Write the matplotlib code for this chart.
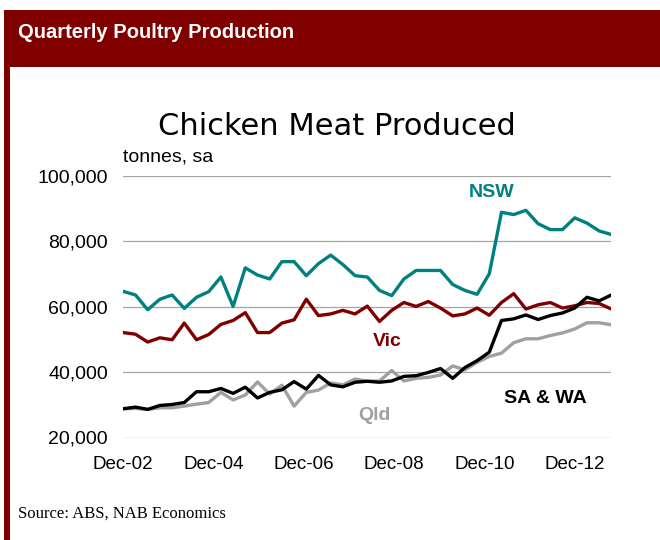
import numpy as np
import matplotlib
matplotlib.use('Agg')
import matplotlib.pyplot as plt
from matplotlib.patches import Rectangle
from matplotlib.ticker import FuncFormatter

# quarterly chicken meat production, tonnes (seasonally adjusted), Dec-02 .. Dec-12
nsw = [64.7, 63.6, 59.1, 62.3, 63.6, 59.5, 62.9, 64.6, 69.1, 60.1, 71.9, 69.7, 68.5, 73.8,
       73.8, 69.5, 73.2, 75.8, 72.9, 69.5, 69.1, 65.0, 63.4, 68.5, 71.1, 71.1, 71.1, 66.8,
       65.0, 63.8, 70.1, 88.9, 88.2, 89.5, 85.4, 83.6, 83.6, 87.2, 85.6, 83.2, 82.1]
vic = [52.1, 51.6, 49.2, 50.5, 49.9, 55.0, 49.9, 51.5, 54.6, 55.8, 58.2, 52.1, 52.1, 55.0,
       56.0, 62.3, 57.3, 57.8, 58.9, 57.8, 60.2, 55.5, 58.9, 61.3, 60.1, 61.6, 59.6, 57.2,
       57.8, 59.6, 57.4, 61.3, 64.0, 59.3, 60.6, 61.3, 59.6, 60.3, 61.3, 61.0, 59.3]
sa_wa = [28.8, 29.3, 28.6, 29.8, 30.1, 30.7, 34.0, 34.0, 35.0, 33.5, 35.4, 32.1, 33.8, 34.6,
         37.1, 34.8, 39.0, 36.1, 35.5, 36.9, 37.2, 36.9, 37.3, 38.7, 38.9, 39.9, 41.1, 38.1,
         41.4, 43.5, 46.1, 55.8, 56.3, 57.5, 56.1, 57.3, 58.1, 59.6, 62.9, 61.8, 63.6]
qld = [28.8, 28.9, 28.6, 29.1, 29.1, 29.6, 30.2, 30.7, 33.8, 31.5, 33.0, 37.0, 33.3, 36.0,
       29.6, 33.8, 34.5, 36.7, 36.1, 37.9, 37.2, 37.3, 40.5, 37.3, 38.1, 38.4, 39.1, 41.9,
       40.7, 43.0, 44.8, 45.8, 49.0, 50.2, 50.2, 51.2, 52.0, 53.2, 55.1, 55.1, 54.5]
tick_labels = ['Dec-02', 'Dec-04', 'Dec-06', 'Dec-08', 'Dec-10', 'Dec-12']

RED = '#800000'
TEAL = '#008080'
GREY = '#A0A0A0'

plt.rcParams['font.family'] = ['Liberation Sans', 'DejaVu Sans']

fig = plt.figure(figsize=(6.6, 5.4), dpi=100)
W, H = 660.0, 540.0

# header banner and left border
fig.patches.append(Rectangle((4 / W, 1 - 67 / H), 1 - 4 / W, 57 / H, transform=fig.transFigure,
                             facecolor=RED, edgecolor='none', zorder=0))
fig.patches.append(Rectangle((4 / W, 0), 5.5 / W, 1 - 10 / H, transform=fig.transFigure,
                             facecolor=RED, edgecolor='none', zorder=0))
fig.text(18 / W, 1 - 32 / H, 'Quarterly Poultry Production', color='white', fontsize=14.5,
         fontweight='bold', va='center', ha='left')
fig.text(18 / W, 1 - 514 / H, 'Source: ABS, NAB Economics', fontsize=12,
         family='Liberation Serif', va='center', ha='left')
fig.text(337 / W, 1 - 126 / H, 'Chicken Meat Produced', fontsize=22, family='DejaVu Sans',
         va='center', ha='center')
fig.text(123 / W, 1 - 157 / H, 'tonnes, sa', fontsize=14, va='center', ha='left')

ax = fig.add_axes([123.3 / W, 1 - 437.5 / H, 488 / W, 261.5 / H])
x = np.arange(len(nsw))
scale = 1000.0
ax.plot(x, np.array(qld) * scale, color=GREY, lw=2.4, zorder=3)
ax.plot(x, np.array(sa_wa) * scale, color='black', lw=2.4, zorder=4)
ax.plot(x, np.array(vic) * scale, color=RED, lw=2.4, zorder=3)
ax.plot(x, np.array(nsw) * scale, color=TEAL, lw=2.4, zorder=3)

ax.text(30.2, 94800, 'NSW', color=TEAL, fontsize=14, fontweight='bold', ha='center', va='center')
ax.text(21.6, 49500, 'Vic', color=RED, fontsize=14, fontweight='bold', ha='center', va='center')
ax.text(34.6, 31800, 'SA & WA', color='black', fontsize=14, fontweight='bold', ha='center', va='center')
ax.text(20.6, 26600, 'Qld', color=GREY, fontsize=14, fontweight='bold', ha='center', va='center')

ax.set_xlim(0, 40)
ax.set_ylim(20000, 100000)
ax.set_yticks(np.arange(20000, 100001, 20000))
ax.yaxis.set_major_formatter(FuncFormatter(lambda v, p: f'{int(v):,}'))
ax.set_xticks(np.arange(len(tick_labels)) * 7.4)
ax.set_xticklabels(tick_labels)
ax.tick_params(axis='y', length=0, pad=11, labelsize=14)
ax.tick_params(axis='x', length=0, pad=13, labelsize=13.5)
ax.grid(axis='y', color='#A6A6A6', lw=0.9)
ax.set_axisbelow(True)
for s in ax.spines.values():
    s.set_visible(False)

fig.savefig('out.png', dpi=100)
